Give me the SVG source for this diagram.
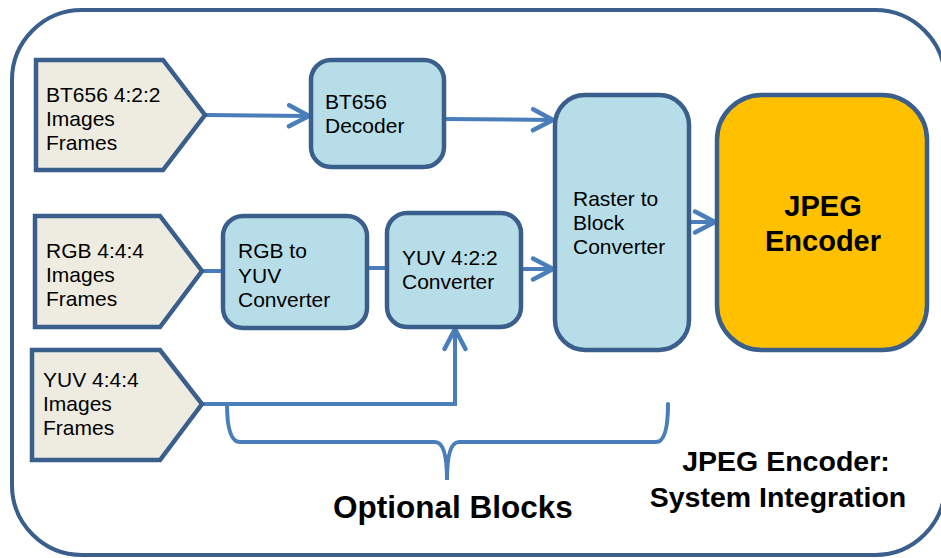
<svg xmlns="http://www.w3.org/2000/svg" width="941" height="558" viewBox="0 0 941 558">
<style>
.inp{fill:#eeece1;stroke:#3b5f8d;stroke-width:4.5;stroke-linejoin:miter}
.box{fill:#b7dde8;stroke:#3b5f8d;stroke-width:4.5}
.enc{fill:#ffc000;stroke:#3b5f8d;stroke-width:4.5}
.t{font-family:"Liberation Sans",Arial,sans-serif;font-size:21px;fill:#000}
.b{font-family:"Liberation Sans",Arial,sans-serif;font-weight:bold;fill:#000}
.c{fill:none;stroke:#4a7ebb;stroke-width:4}
</style>
<defs>
<marker id="arr" markerUnits="userSpaceOnUse" markerWidth="30" markerHeight="30" viewBox="0 0 30 30" refX="25" refY="15" orient="auto" overflow="visible">
<path d="M4,4.5 L24,15 L4,25.5" fill="none" stroke="#4a7ebb" stroke-width="4.5" stroke-linecap="round" stroke-linejoin="miter"/>
</marker>
</defs>
<rect x="12" y="10" width="933" height="545" rx="70" ry="70" fill="#fff" stroke="#3b5f8d" stroke-width="4"/>
<g id="connectors">
<path class="c" d="M205,115 L310,116" marker-end="url(#arr)"/>
<path class="c" d="M444,119 L554,120" marker-end="url(#arr)"/>
<path class="c" d="M202,271 L223,271"/>
<path class="c" d="M367,268 L387,268"/>
<path class="c" d="M521,269 L554,269" marker-end="url(#arr)"/>
<path class="c" d="M689,222 L716,222" marker-end="url(#arr)"/>
<path class="c" d="M202,404 L455,404 L455,328" marker-end="url(#arr)"/>
<path class="c" d="M227,404 Q227,442 240,442 L435,442 Q447,442 447,480 Q447,442 459,442 L656,442 Q668,442 668,404" stroke-linecap="round"/>
</g>
<g id="in-bt656">
<polygon class="inp" points="36,60 163,60 205,115 163,170 36,170"/>
<text class="t" x="46" y="102">BT656 4:2:2</text>
<text class="t" x="46" y="126">Images</text>
<text class="t" x="46" y="150">Frames</text>
</g>
<g id="in-rgb">
<polygon class="inp" points="35,216 160,216 202,271 160,327 35,327"/>
<text class="t" x="46" y="258">RGB 4:4:4</text>
<text class="t" x="46" y="282">Images</text>
<text class="t" x="46" y="306">Frames</text>
</g>
<g id="in-yuv">
<polygon class="inp" points="32,350 160,350 202,404 160,460 32,460"/>
<text class="t" x="43" y="387">YUV 4:4:4</text>
<text class="t" x="43" y="411">Images</text>
<text class="t" x="43" y="435">Frames</text>
</g>
<g id="bt656-decoder">
<rect class="box" x="311" y="60" width="133" height="107" rx="20"/>
<text class="t" x="325" y="109">BT656</text>
<text class="t" x="325" y="133">Decoder</text>
</g>
<g id="rgb-to-yuv">
<rect class="box" x="223" y="216" width="144" height="112" rx="20"/>
<text class="t" x="238" y="258">RGB to</text>
<text class="t" x="238" y="283">YUV</text>
<text class="t" x="238" y="307">Converter</text>
</g>
<g id="yuv422">
<rect class="box" x="387" y="213" width="134" height="114" rx="20"/>
<text class="t" x="402" y="265">YUV 4:2:2</text>
<text class="t" x="402" y="289">Converter</text>
</g>
<g id="raster">
<rect class="box" x="555" y="95" width="134" height="255" rx="30"/>
<text class="t" x="573" y="206">Raster to</text>
<text class="t" x="573" y="230">Block</text>
<text class="t" x="573" y="254">Converter</text>
</g>
<g id="jpeg-encoder">
<rect class="enc" x="717" y="95" width="210" height="255" rx="45"/>
<text class="b" x="823" y="216" font-size="29" text-anchor="middle">JPEG</text>
<text class="b" x="823" y="251" font-size="29" text-anchor="middle">Encoder</text>
</g>
<g id="labels">
<text class="b" x="453" y="518" font-size="31.5" text-anchor="middle">Optional Blocks</text>
<text class="b" x="786" y="471" font-size="28.5" text-anchor="middle">JPEG Encoder:</text>
<text class="b" x="778" y="507" font-size="28.5" text-anchor="middle">System Integration</text>
</g>
</svg>
